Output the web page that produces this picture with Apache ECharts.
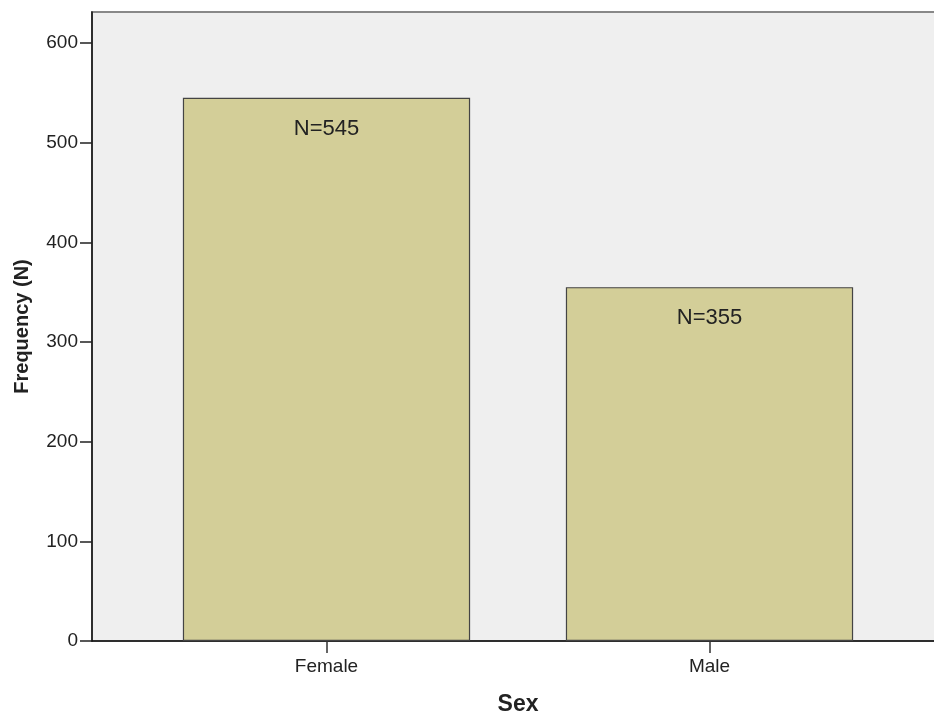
<!DOCTYPE html>
<html><head><meta charset="utf-8">
<script src="https://cdn.jsdelivr.net/npm/echarts@6/dist/echarts.min.js"></script>
<style>html,body{margin:0;padding:0;background:#fff}#c{width:934px;height:716px}</style>
</head><body><div id="c"></div>
<script>
const categories = ['Female', 'Male'];
const frequencies = [545, 355];
const yTicks = [0, 100, 200, 300, 400, 500, 600];
const yMax = 631;
const xTitle = 'Sex';
const yTitle = 'Frequency (N)';

const chart = echarts.init(document.getElementById('c'), null, {renderer: 'canvas'});
const font = 'Liberation Sans, Arial, sans-serif';
chart.setOption({
  animation: false,
  grid: [
    {left: 92, right: -10, top: 12, bottom: 75, outerBoundsMode: 'none', containLabel: false,
     show: true, backgroundColor: '#efefef', borderColor: '#888', borderWidth: 2},
    {left: 135, right: 33, top: 12, bottom: 75, outerBoundsMode: 'none', containLabel: false}
  ],
  xAxis: [
    {gridIndex: 0, type: 'value', min: 0, max: 1, axisLabel: {show: false}, axisTick: {show: false}, splitLine: {show: false},
     axisLine: {show: true, lineStyle: {color: '#111', width: 1.5}}},
    {gridIndex: 1, type: 'category', data: categories, boundaryGap: true,
     axisLine: {show: false},
     axisTick: {show: true, alignWithLabel: true, length: 12, lineStyle: {color: '#333', width: 1.5}},
     axisLabel: {color: '#222', fontSize: 19, fontFamily: font, margin: 16},
     name: xTitle, nameLocation: 'middle', nameGap: 52,
     nameTextStyle: {fontSize: 23, fontWeight: 'bold', color: '#222', fontFamily: font}}
  ],
  yAxis: [
    {gridIndex: 0, type: 'value', min: 0, max: yMax, interval: 100,
     axisLine: {show: true, lineStyle: {color: '#111', width: 1.5}},
     axisTick: {show: true, length: 12, lineStyle: {color: '#222', width: 1.5},
       customValues: yTicks},
     axisLabel: {color: '#222', fontSize: 19, fontFamily: font, margin: 14, customValues: yTicks},
     splitLine: {show: false},
     name: yTitle, nameLocation: 'middle', nameGap: 60,
     nameTextStyle: {fontSize: 20, fontWeight: 'bold', color: '#222', fontFamily: font}},
    {gridIndex: 1, type: 'value', min: 0, max: yMax, show: false}
  ],
  series: [{
    type: 'bar', xAxisIndex: 1, yAxisIndex: 1, data: frequencies, barWidth: '75%',
    itemStyle: {color: '#d3ce98', borderColor: '#444', borderWidth: 1.2},
    label: {show: true, position: 'insideTop', distance: 20, formatter: p => 'N=' + p.value,
      color: '#222', fontSize: 22, fontFamily: font}
  }]
});
</script></body></html>
